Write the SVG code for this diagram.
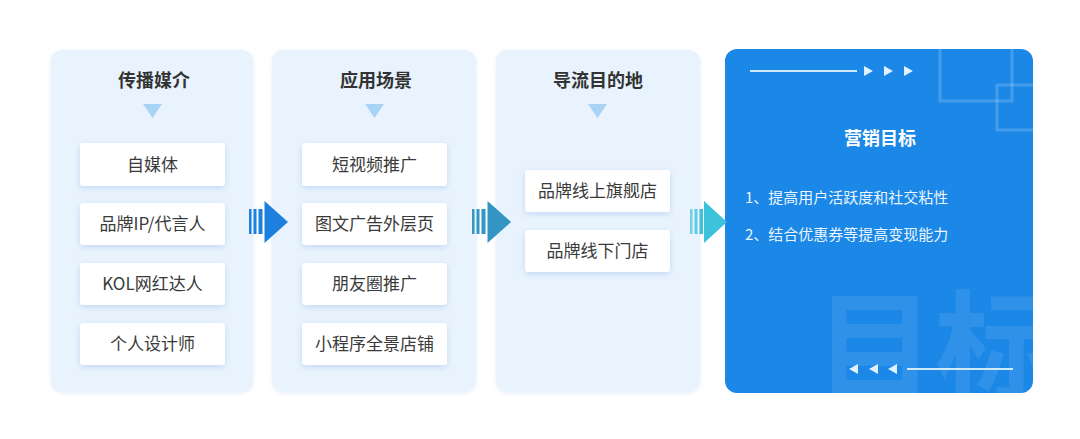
<svg xmlns="http://www.w3.org/2000/svg" width="1080" height="439" viewBox="0 0 1080 439">
  <defs>
    <style>
      .panel { fill: #e9f3fd; }
      .title { font-family: "Noto Sans CJK SC", "Noto Sans", sans-serif; font-size: 18px; font-weight: bold; fill: #333333; text-anchor: middle; }
      .item { fill: #ffffff; filter: url(#sh); }
      .itext { font-family: "Noto Sans CJK SC", "Noto Sans", sans-serif; font-size: 17px; fill: #3a3a3a; text-anchor: middle; }
      .tri { fill: #a9d3f4; }
      .gtext { font-family: "Noto Sans CJK SC", "Noto Sans", sans-serif; font-size: 15px; fill: #eaf5ff; }
      .deco { fill: none; stroke: #ffffff; stroke-opacity: 0.18; stroke-width: 3; }
    </style>
    <filter id="sh" x="-20%" y="-30%" width="140%" height="170%">
      <feDropShadow dx="0" dy="2" stdDeviation="3" flood-color="#8fb8ea" flood-opacity="0.45"/>
    </filter>
    <filter id="psh" x="-10%" y="-10%" width="120%" height="120%">
      <feDropShadow dx="0" dy="1" stdDeviation="2" flood-color="#c5dcf5" flood-opacity="0.5"/>
    </filter>
    <clipPath id="goalClip">
      <rect x="725" y="49" width="308" height="344" rx="12"/>
    </clipPath>
  </defs>
  <rect x="0" y="0" width="1080" height="439" fill="#ffffff"/>

  <g id="panel-media">
    <rect class="panel" x="51" y="50" width="202" height="342" rx="12" filter="url(#psh)"/>
    <text class="title" x="154" y="87">传播媒介</text>
    <polygon class="tri" points="143,104 162,104 152.5,118"/>
    <g id="item-self-media"><rect class="item" x="80" y="143" width="145" height="43" rx="3"/><text class="itext" x="152.5" y="170.5">自媒体</text></g>
    <g id="item-brand-ip"><rect class="item" x="80" y="203" width="145" height="42" rx="3"/><text class="itext" x="152.5" y="230">品牌IP/代言人</text></g>
    <g id="item-kol"><rect class="item" x="80" y="263" width="145" height="42" rx="3"/><text class="itext" x="152.5" y="290">KOL网红达人</text></g>
    <g id="item-designer"><rect class="item" x="80" y="323" width="145" height="42" rx="3"/><text class="itext" x="152.5" y="350">个人设计师</text></g>
  </g>

  <g id="panel-scene">
    <rect class="panel" x="272" y="50" width="204" height="342" rx="12" filter="url(#psh)"/>
    <text class="title" x="376" y="87">应用场景</text>
    <polygon class="tri" points="365,104 384,104 374.5,118"/>
    <g id="item-short-video"><rect class="item" x="302" y="143" width="145" height="43" rx="3"/><text class="itext" x="374.5" y="170.5">短视频推广</text></g>
    <g id="item-ad-page"><rect class="item" x="302" y="203" width="145" height="42" rx="3"/><text class="itext" x="374.5" y="230">图文广告外层页</text></g>
    <g id="item-moments"><rect class="item" x="302" y="263" width="145" height="42" rx="3"/><text class="itext" x="374.5" y="290">朋友圈推广</text></g>
    <g id="item-miniapp"><rect class="item" x="302" y="323" width="145" height="42" rx="3"/><text class="itext" x="374.5" y="350">小程序全景店铺</text></g>
  </g>

  <g id="panel-dest">
    <rect class="panel" x="496" y="50" width="204" height="342" rx="12" filter="url(#psh)"/>
    <text class="title" x="598" y="87">导流目的地</text>
    <polygon class="tri" points="588,104 607,104 597.5,118"/>
    <g id="item-online-store"><rect class="item" x="525" y="170" width="145" height="42" rx="3"/><text class="itext" x="597.5" y="197">品牌线上旗舰店</text></g>
    <g id="item-offline-store"><rect class="item" x="525" y="230" width="145" height="42" rx="3"/><text class="itext" x="597.5" y="257">品牌线下门店</text></g>
  </g>

  <g id="panel-goal">
    <rect x="725" y="49" width="308" height="344" rx="12" fill="#1b87e6"/>
    <g clip-path="url(#goalClip)">
      <rect class="deco" x="940" y="20" width="72" height="81"/>
      <rect class="deco" x="997" y="85" width="70" height="45"/>
      <text x="815" y="392" font-family="Noto Sans CJK SC, sans-serif" font-size="120" font-weight="bold" fill="#ffffff" fill-opacity="0.09">目标</text>
    </g>
    <line x1="750" y1="71" x2="857" y2="71" stroke="#cfeaff" stroke-width="2"/>
    <polygon points="864,66 873,71 864,76" fill="#dff1ff"/>
    <polygon points="884,66 893,71 884,76" fill="#dff1ff"/>
    <polygon points="904,66 913,71 904,76" fill="#dff1ff"/>
    <text x="880" y="145" font-family="Noto Sans CJK SC, sans-serif" font-size="18" font-weight="bold" fill="#ffffff" text-anchor="middle">营销目标</text>
    <text class="gtext" x="745" y="203">1、提高用户活跃度和社交粘性</text>
    <text class="gtext" x="745" y="240">2、结合优惠券等提高变现能力</text>
    <polygon points="858,364 849,369 858,374" fill="#dff1ff"/>
    <polygon points="878,364 869,369 878,374" fill="#dff1ff"/>
    <polygon points="897,364 888,369 897,374" fill="#dff1ff"/>
    <line x1="907" y1="369" x2="1013" y2="369" stroke="#cfeaff" stroke-width="2"/>
  </g>

  <g id="connectors">
    <g id="arrow-1" fill="#1d80df">
      <rect x="249" y="209" width="2.5" height="25"/>
      <rect x="253.5" y="209" width="3" height="25"/>
      <rect x="258.5" y="209" width="4" height="25"/>
      <polygon points="264.5,201 288,222 264.5,243"/>
    </g>
    <g id="arrow-2" fill="#3395c3">
      <rect x="472" y="209" width="2.5" height="25"/>
      <rect x="476.5" y="209" width="3" height="25"/>
      <rect x="481.5" y="209" width="4" height="25"/>
      <polygon points="487.5,201 511,222 487.5,243"/>
    </g>
    <g id="arrow-3" fill="#3cc2da">
      <rect x="690" y="209" width="2.5" height="25" fill-opacity="0.7"/>
      <rect x="694.5" y="209" width="3" height="25" fill-opacity="0.8"/>
      <rect x="699.5" y="209" width="3.5" height="25"/>
      <polygon points="704,201 727,222 704,243"/>
    </g>
  </g>
</svg>
